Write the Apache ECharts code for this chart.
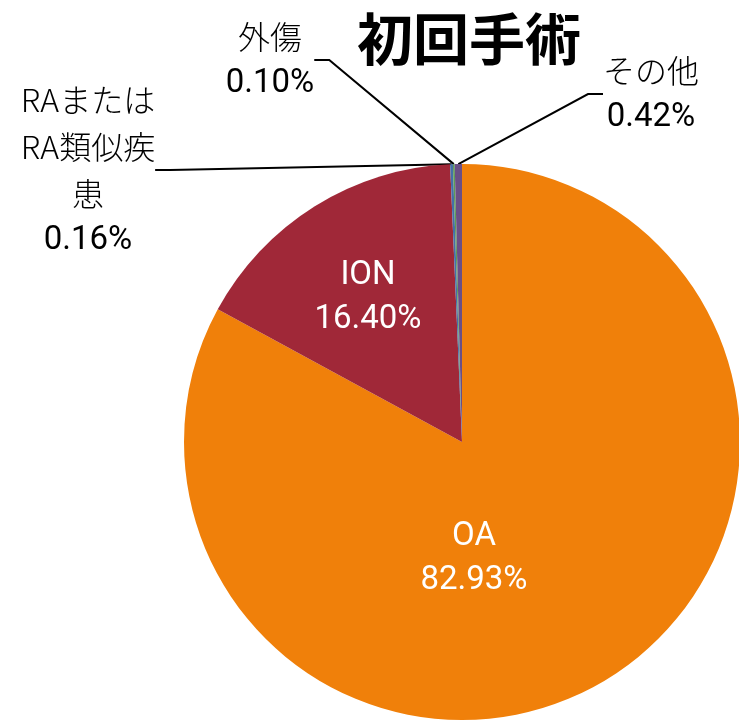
<!DOCTYPE html>
<html>
<head>
	<meta charset="utf-8">
	<title>初回手術</title>
	<script src="https://cdn.jsdelivr.net/npm/echarts@6/dist/echarts.min.js"></script>
	<style type="text/css">
		* {
			padding: 0;
			margin: 0;
		}
		body {
			background: #fff;
		}
		#main {
			width: 739px;
			height: 721px;
		}
	</style>
</head>
<body>
	<div id="main"></div>
	<script type="text/javascript">
		var categories = ['OA', 'ION', 'RAまたはRA類似疾患', '外傷', 'その他'];
		var labelNames = ['OA', 'ION', 'RAまたは\nRA類似疾\n患', '外傷', 'その他'];
		var values = [82.93, 16.40, 0.16, 0.10, 0.42];
		var colors = ['#f0800a', '#a02838', '#4470a8', '#5e9b57', '#6a4f86'];

		// where each label sits (centre of the text block)
		var labelPos = [
			[474, 559],
			[368, 298],
			[88, 170],
			[270, 60],
			[651, 94]
		];

		var data = [];
		for (let i = 0; i < categories.length; i++) {
			let inside = i < 2;
			data.push({
				name: categories[i],
				value: values[i],
				itemStyle: { color: colors[i] },
				label: {
					position: inside ? 'inside' : 'outside',
					color: inside ? '#fff' : '#000',
					lineHeight: inside ? 44 : 47
				},
				labelLine: {
					show: !inside,
					lineStyle: { color: '#000', width: 2 }
				}
			});
		}

		var chart = echarts.init(document.getElementById('main'));
		chart.setOption({
			animation: false,
			title: {
				text: '初回手術',
				left: 464,
				top: 6,
				textAlign: 'center',
				textStyle: {
					fontFamily: 'Noto Sans CJK JP',
					fontWeight: 'bold',
					fontSize: 56,
					color: '#000'
				}
			},
			series: [{
				type: 'pie',
				center: [462, 442],
				radius: 278,
				startAngle: 90,
				clockwise: true,
				avoidLabelOverlap: false,
				data: data,
				label: {
					show: true,
					fontFamily: 'Noto Sans CJK JP',
					fontSize: 33,
					align: 'center',
					formatter: function (p) {
						let st = p.dataIndex < 2 ? 'm' : 'n';
						return '{' + st + '|' + labelNames[p.dataIndex].split('\n').join('}\n{' + st + '|') + '}\n{p|' + p.value.toFixed(2) + '%}';
					},
					rich: {
						n: { fontFamily: 'Noto Sans CJK JP', fontWeight: 300, fontSize: 32 },
						m: { fontFamily: 'Roboto', fontWeight: 'normal', fontSize: 33 },
						p: { fontFamily: 'Roboto', fontWeight: 'normal', fontSize: 33 }
					}
				},
				labelLine: {
					length: 20,
					length2: 15
				},
				labelLayout: function (params) {
					let pos = labelPos[params.dataIndex];
					return {
						x: pos[0],
						y: pos[1],
						align: 'center',
						verticalAlign: 'middle'
					};
				}
			}]
		});
	</script>
</body>
</html>
